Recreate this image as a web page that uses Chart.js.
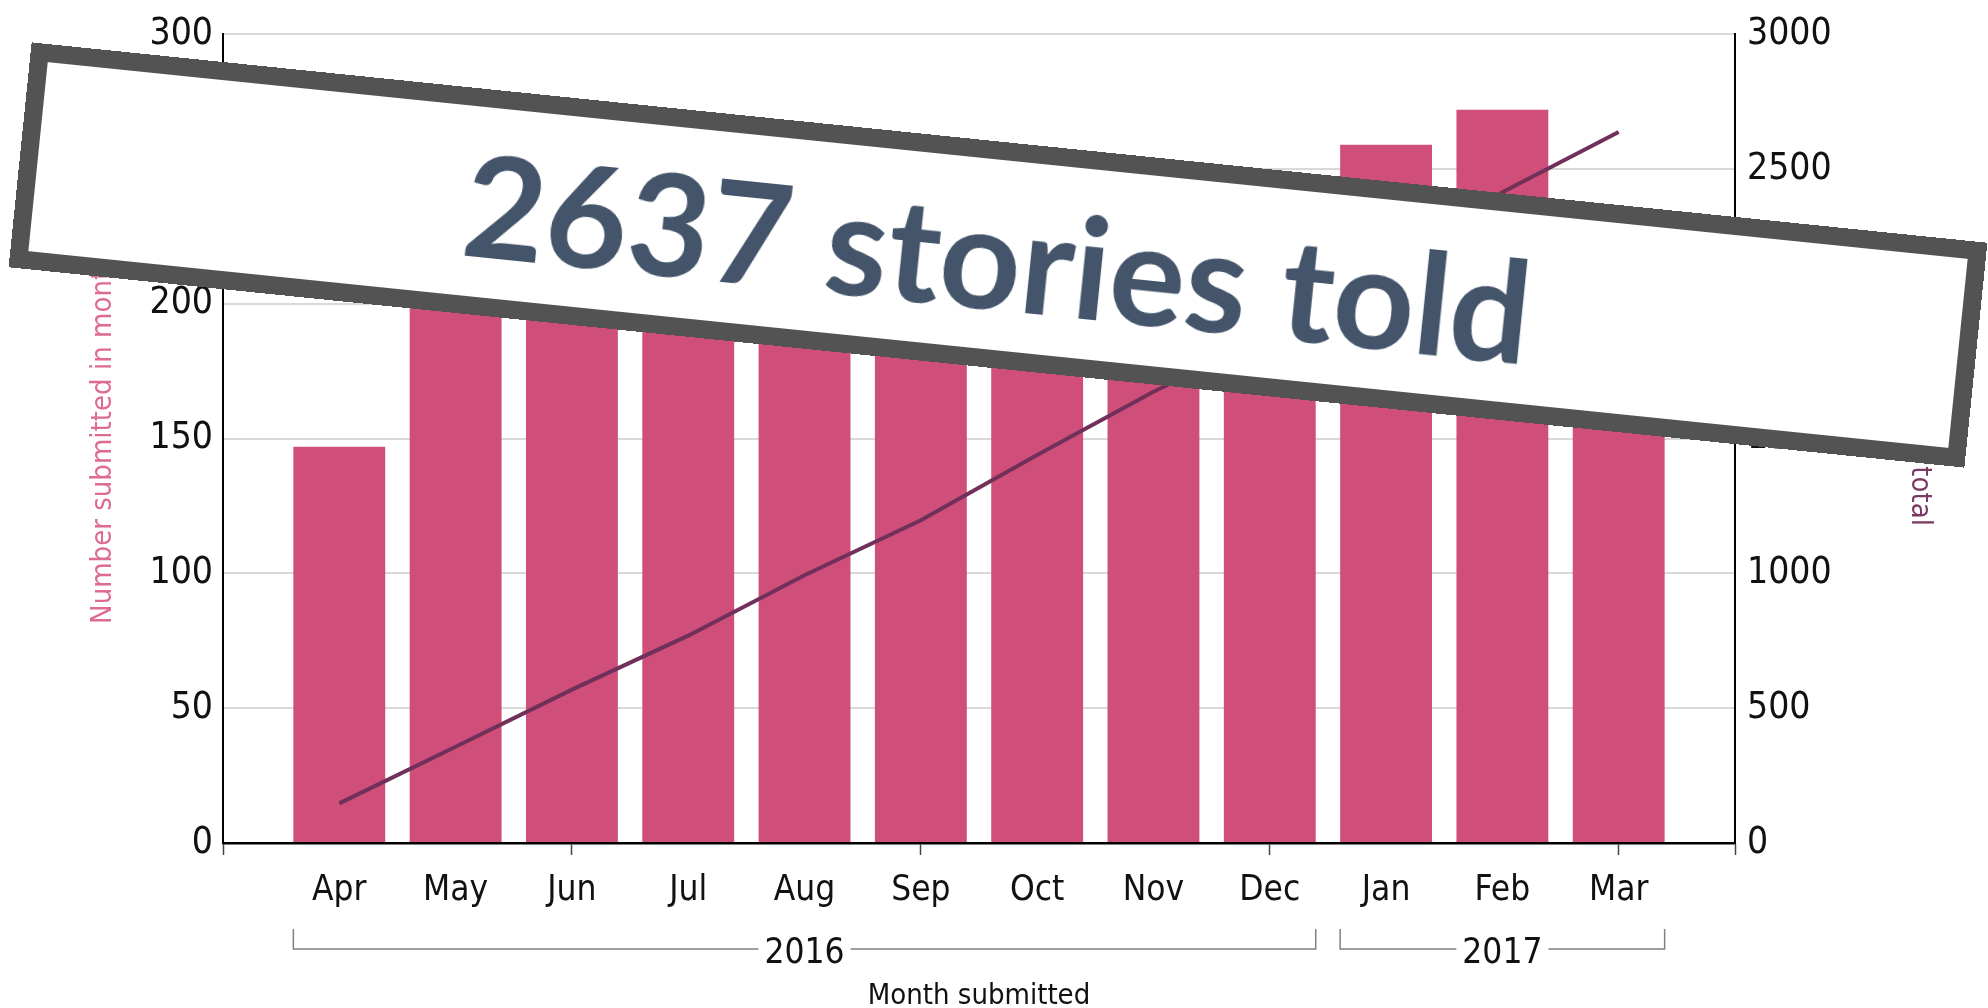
<!DOCTYPE html>
<html lang="en">
<head>
<meta charset="UTF-8">
<title>Stories submitted per month</title>
<script src="https://cdn.jsdelivr.net/npm/chart.js@4/dist/chart.umd.min.js"></script>
<style>
  html, body { margin: 0; padding: 0; background: #fff; overflow: hidden; }
  #wrap { position: relative; width: 1988px; height: 1008px; }
  #storyChart { position: absolute; left: 0; top: 0; }
  #banner {
    position: absolute;
    left: 14.5px; top: 142.3px;
    width: 1966px; height: 226px;
    box-sizing: border-box;
    border: 18px solid #535353;
    background: #fff;
    transform: rotate(5.85deg);
    display: flex; align-items: center; justify-content: center;
    font-family: Lato, "Open Sans", sans-serif;
    font-weight: 700;
    font-size: 142px;
    line-height: 1;
    color: #44546a;
    white-space: nowrap;
  }
</style>
</head>
<body>
<div id="wrap">
  <canvas id="storyChart" width="1988" height="1008"></canvas>
  <div id="banner">2637 stories told</div>
</div>
<script>
// months on the x axis, April 2016 to March 2017
const months = ['Apr', 'May', 'Jun', 'Jul', 'Aug', 'Sep', 'Oct', 'Nov', 'Dec', 'Jan', 'Feb', 'Mar'];
// stories submitted in each month
const submitted = [147, 210, 212, 200, 224, 204, 242, 235, 209, 259, 272, 223];
// running total at the end of each month
const runningTotal = [147, 357, 569, 769, 993, 1197, 1439, 1674, 1883, 2142, 2414, 2637];
// year groups under the month labels
const yearNames = ['2016', '2017'];
const yearFirst = [0, 9];
const yearLast = [8, 11];

const leftTicks = [0, 50, 100, 150, 200, 250, 300];
const rightTicks = [0, 500, 1000, 1500, 2000, 2500, 3000];

const FONT = "'DejaVu Sans Condensed', 'DejaVu Sans', sans-serif";
Chart.defaults.font.family = FONT;
Chart.defaults.color = '#111';

// bracket with the year under each group of months
const yearBrackets = {
  id: 'yearBrackets',
  afterDraw(chart) {
    const {ctx, scales: {x}} = chart;
    const bars = chart.getDatasetMeta(1).data;
    const lineY = x.top + 106;
    const tickTop = x.top + 86;
    ctx.save();
    ctx.font = '35px ' + FONT;
    ctx.strokeStyle = '#808080';
    ctx.lineWidth = 1.5;
    ctx.fillStyle = '#111';
    ctx.textAlign = 'center';
    ctx.textBaseline = 'middle';
    yearNames.forEach((name, k) => {
      const a = bars[yearFirst[k]];
      const b = bars[yearLast[k]];
      const x0 = a.x - a.width / 2;
      const x1 = b.x + b.width / 2;
      const mid = (x0 + x1) / 2;
      const half = ctx.measureText(name).width / 2 + 6;
      ctx.beginPath();
      ctx.moveTo(x0, tickTop);
      ctx.lineTo(x0, lineY);
      ctx.lineTo(mid - half, lineY);
      ctx.moveTo(mid + half, lineY);
      ctx.lineTo(x1, lineY);
      ctx.lineTo(x1, tickTop);
      ctx.stroke();
      ctx.fillText(name, mid, lineY + 5);
    });
    ctx.restore();
  }
};

const ctx = document.getElementById('storyChart').getContext('2d');
const chart = new Chart(ctx, {
  type: 'bar',
  data: {
    datasets: [{
      type: 'line',
      label: 'Running total',
      data: months.map((m, i) => ({x: i, y: runningTotal[i]})),
      yAxisID: 'y2',
      borderColor: '#70305a',
      borderWidth: 4,
      pointRadius: 0,
      tension: 0,
      order: 0
    }, {
      label: 'Number submitted in month',
      data: months.map((m, i) => ({x: i, y: submitted[i]})),
      yAxisID: 'y',
      backgroundColor: '#d04f7a',
      categoryPercentage: 1,
      barPercentage: 0.79,
      order: 1
    }]
  },
  options: {
    responsive: false,
    animation: false,
    devicePixelRatio: 1,
    layout: {padding: {top: 31, left: 0, right: 0, bottom: 0}},
    plugins: {legend: {display: false}, tooltip: {enabled: false}},
    scales: {
      x: {
        type: 'linear',
        offset: false,
        min: -1,
        max: 12,
        afterFit: (s) => { s.height = 165; },
        border: {display: true, color: '#000', width: 2.5},
        grid: {
          offset: false,
          drawOnChartArea: false,
          drawTicks: true,
          tickLength: 12,
          tickWidth: 1.5,
          tickColor: (c) => {
            const v = c.tick ? c.tick.value : 0;
            return ((v + 1) % 3 === 0 || v === 12) ? '#444' : 'rgba(0,0,0,0)';
          }
        },
        ticks: {
          stepSize: 1,
          autoSkip: false,
          maxRotation: 0,
          padding: 15,
          font: {size: 35},
          callback: (v) => months[v] !== undefined ? months[v] : ''
        },
        title: {
          display: true,
          text: 'Month submitted',
          color: '#111',
          font: {size: 29, lineHeight: 1},
          padding: {top: 0, bottom: -3}
        }
      },
      y: {
        position: 'left',
        min: 0,
        max: 300,
        afterFit: (s) => { s.width = 223; },
        afterBuildTicks: (s) => { s.ticks = leftTicks.map(v => ({value: v})); },
        border: {display: true, color: '#000', width: 2},
        grid: {
          drawTicks: false,
          lineWidth: 2,
          color: (c) => (c.tick && c.tick.value === 0) ? 'rgba(0,0,0,0)' : '#d9d9d9'
        },
        ticks: {padding: 10, font: {size: 37}, callback: (v) => String(v)},
        title: {
          display: true,
          text: 'Number submitted in month',
          color: '#dd6b94',
          font: {size: 29, lineHeight: 1.2},
          padding: {top: 86, bottom: 0}
        }
      },
      y2: {
        position: 'right',
        min: 0,
        max: 3000,
        afterFit: (s) => { s.width = 253; },
        afterBuildTicks: (s) => { s.ticks = rightTicks.map(v => ({value: v})); },
        border: {display: true, color: '#000', width: 2},
        grid: {display: false, drawTicks: false},
        ticks: {padding: 12, font: {size: 37}, callback: (v) => String(v)},
        title: {
          display: true,
          text: 'Running total',
          color: '#7a3a64',
          font: {size: 29, lineHeight: 1.2},
          padding: {top: 51, bottom: 0}
        }
      }
    }
  },
  plugins: [yearBrackets]
});
</script>
</body>
</html>
